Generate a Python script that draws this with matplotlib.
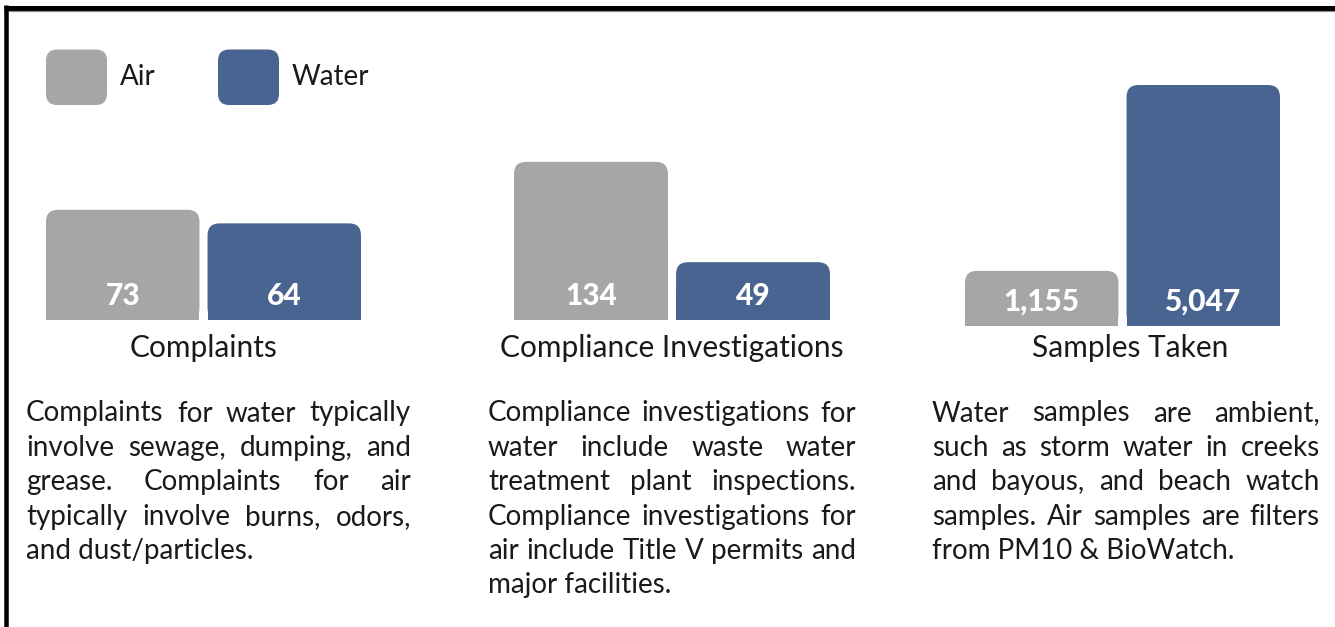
import matplotlib
matplotlib.use("Agg")
import matplotlib.pyplot as plt
from matplotlib.patches import FancyBboxPatch, Rectangle

W, H = 1335, 627
DPI = 100

# ---------------- data ----------------
series = ["Air", "Water"]
categories = ["Complaints", "Compliance Investigations", "Samples Taken"]
air_values = [73, 134, 1155]
water_values = [64, 49, 5047]
air_labels = ["73", "134", "1,155"]
water_labels = ["64", "49", "5,047"]

desc_complaints = [
    "Complaints for water typically",
    "involve sewage, dumping, and",
    "grease. Complaints for air",
    "typically involve burns, odors,",
    "and dust/particles.",
]
desc_compliance = [
    "Compliance investigations for",
    "water include waste water",
    "treatment plant inspections.",
    "Compliance investigations for",
    "air include Title V permits and",
    "major facilities.",
]
desc_samples = [
    "Water samples are ambient,",
    "such as storm water in creeks",
    "and bayous, and beach watch",
    "samples. Air samples are filters",
    "from PM10 & BioWatch.",
]
descriptions = [desc_complaints, desc_compliance, desc_samples]

# ---------------- style ----------------
GRAY = "#A6A6A6"
BLUE = "#4A6491"
TEXT = "#1A1A1A"
FONT = ["Lato", "DejaVu Sans"]
FS = 20
FS_CAT = 21.5
FS_NUM = 21.5

plt.rcParams["font.family"] = FONT

fig = plt.figure(figsize=(W / DPI, H / DPI), dpi=DPI)
fig.patch.set_facecolor("white")


def fig_rect(x0, y0, x1, y1):
    return [x0 / W, 1 - y1 / H, (x1 - x0) / W, (y1 - y0) / H]


# overlay axes in pixel coordinates for text / frame / legend
ov = fig.add_axes([0, 0, 1, 1], zorder=0)
ov.set_xlim(0, W)
ov.set_ylim(H, 0)
ov.axis("off")
ov.patch.set_alpha(0)

# frame
ov.plot([4, W + 10], [7.5, 7.5], color="black", lw=5 * 72 / DPI,
        solid_capstyle="butt", clip_on=False)
ov.plot([8, W + 10], [10.6, 10.6], color="#8a8a8a", lw=1.2 * 72 / DPI,
        solid_capstyle="butt", clip_on=False)
ov.plot([6, 6], [5, H + 10], color="black", lw=4.5 * 72 / DPI,
        solid_capstyle="butt", clip_on=False)

# legend
legend_pos = [(46, 120), (218, 292)]
for (sx, tx), name, col in zip(legend_pos, series, [GRAY, BLUE]):
    ov.add_patch(FancyBboxPatch((sx, 49.5), 61, 55.5,
                                boxstyle="round,pad=0,rounding_size=11",
                                facecolor=col, edgecolor="none"))
    ov.text(tx, 85, name, fontsize=FS, color=TEXT, ha="left", va="baseline")

# panels
panels = [
    dict(x0=46, x1=361, base=320, ppu=1.51),
    dict(x0=514, x1=830, base=320, ppu=1.18),
    dict(x0=965, x1=1280, base=326, ppu=0.04775),
]
TOP = 60
BW = 0.95
R_PX = 12

for i, p in enumerate(panels):
    ax = fig.add_axes(fig_rect(p["x0"], TOP, p["x1"], p["base"]), zorder=2)
    ax.set_xlim(-BW / 2, 1 + BW / 2)
    ax.set_ylim(0, (p["base"] - TOP) / p["ppu"])
    ax.axis("off")
    ax.patch.set_alpha(0)
    vals = [air_values[i], water_values[i]]
    labs = [air_labels[i], water_labels[i]]
    bars = ax.bar([0, 1], vals, width=BW, color=[GRAY, BLUE])
    px_x = (p["x1"] - p["x0"]) / (1 + BW)
    px_y = p["ppu"]
    for b, col, lab in zip(bars, [GRAY, BLUE], labs):
        b.set_visible(False)
        x, y, w, h = b.get_x(), b.get_y(), b.get_width(), b.get_height()
        rx = R_PX / px_x
        ax.add_patch(FancyBboxPatch((x, y), w, h,
                                    boxstyle=f"round,pad=0,rounding_size={rx}",
                                    mutation_aspect=px_x / px_y,
                                    facecolor=col, edgecolor="none", lw=0))
        ax.add_patch(Rectangle((x, y), w, h / 2, facecolor=col,
                               edgecolor="none", lw=0))
        ax.annotate(lab, xy=(x + w / 2, 0), xytext=(0, 15 * 72 / DPI),
                    textcoords="offset points", ha="center", va="baseline",
                    color="white", fontsize=FS_NUM, fontweight="black")

# category labels
cat_x = [203.5, 672, 1130]
for cx, cat in zip(cat_x, categories):
    ov.text(cx, 357, cat, fontsize=FS_CAT, color=TEXT, ha="center",
            va="baseline")

# justified descriptions
renderer = fig.canvas.get_renderer()
cols = [(26, 411), (488, 856), (932, 1320)]
BASE0 = 421.5
LINE = 34.4
for (x0, x1), lines in zip(cols, descriptions):
    for li, line in enumerate(lines):
        y = BASE0 + li * LINE
        if li == len(lines) - 1:
            ov.text(x0, y, line, fontsize=FS, color=TEXT, ha="left", va="baseline")
            continue
        words = line.split()
        texts = [ov.text(0, y, wd, fontsize=FS, color=TEXT, ha="left",
                         va="baseline") for wd in words]
        widths = [t.get_window_extent(renderer=renderer).width for t in texts]
        gap = (x1 - x0 - sum(widths)) / (len(words) - 1)
        cx = x0
        for t, wd in zip(texts, widths):
            t.set_x(cx)
            cx += wd + gap

fig.savefig("out.png", dpi=DPI, facecolor="white")
